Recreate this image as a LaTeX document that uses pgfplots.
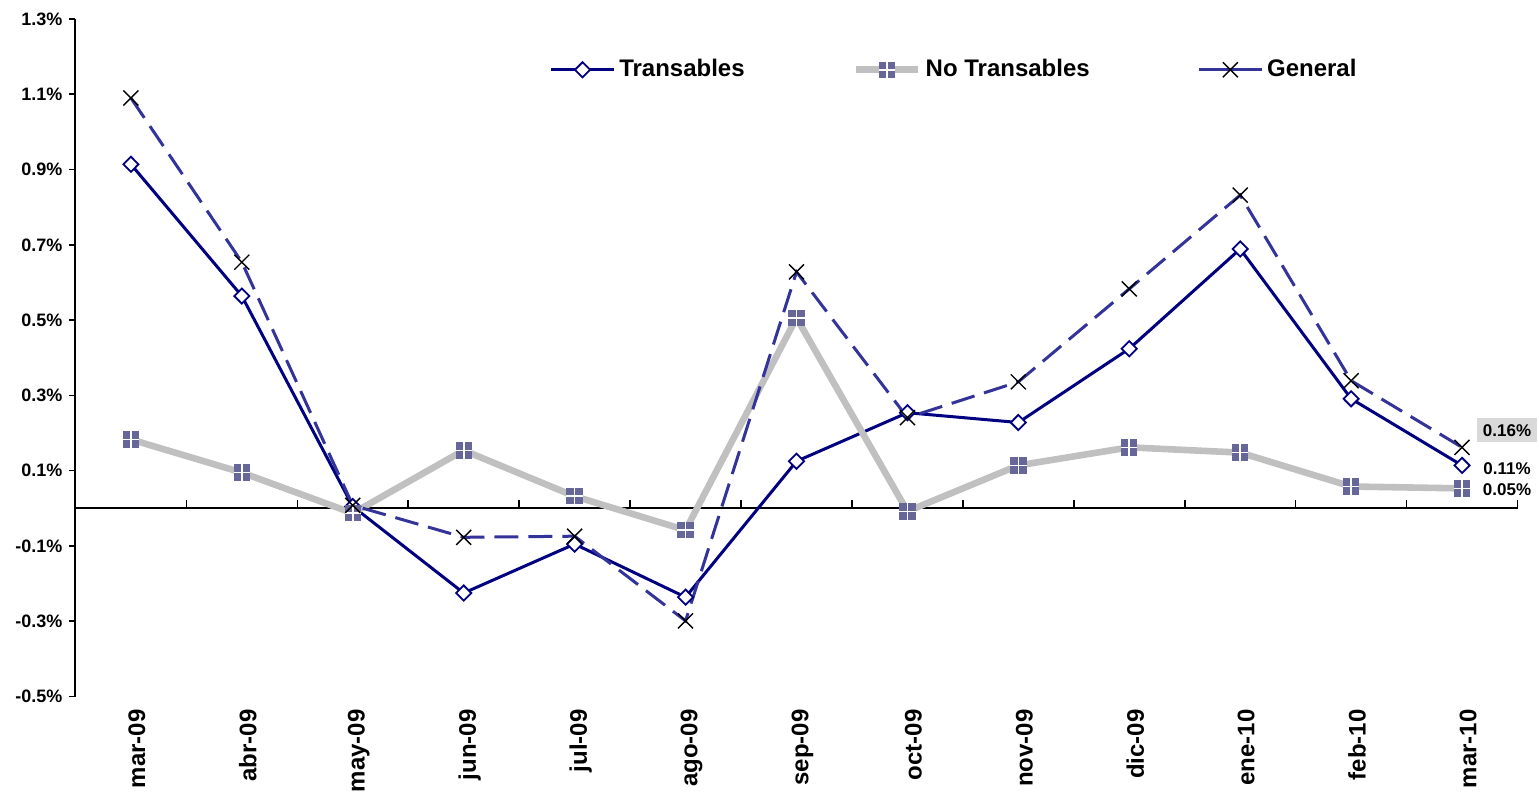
\documentclass[border=0pt]{standalone}
\usepackage{pgfplots}
\pgfplotsset{compat=1.18}
\usepackage{fontspec}
\setmainfont{Liberation Sans}
\definecolor{navy}{RGB}{0,0,128}
\definecolor{dashcol}{RGB}{51,51,153}
\definecolor{lgray}{RGB}{192,192,192}
\definecolor{sqfill}{RGB}{102,102,153}
\definecolor{boxgray}{RGB}{217,217,217}
\pgfdeclareplotmark{sqplus}{%
 \pgfpathrectangle{\pgfqpoint{-\pgfplotmarksize}{-\pgfplotmarksize}}{\pgfqpoint{2\pgfplotmarksize}{2\pgfplotmarksize}}%
 \pgfusepathqfill
 \pgfsetstrokecolor{white}\pgfsetlinewidth{0.8pt}%
 \pgfpathmoveto{\pgfqpoint{-\pgfplotmarksize}{0pt}}\pgfpathlineto{\pgfqpoint{\pgfplotmarksize}{0pt}}%
 \pgfpathmoveto{\pgfqpoint{0pt}{-\pgfplotmarksize}}\pgfpathlineto{\pgfqpoint{0pt}{\pgfplotmarksize}}%
 \pgfusepathqstroke}
\begin{document}
\begin{tikzpicture}
\begin{axis}[
  name=ax,
  scale only axis,
  width=721.5pt, height=339pt,
  xmin=-0.5, xmax=12.5,
  ymin=-0.5, ymax=1.3,
  axis lines=left,
  axis line style={-, line width=1pt},
  x axis line style={draw=none},
  xtick={0,...,12},
  xticklabels={mar-09,abr-09,may-09,jun-09,jul-09,ago-09,sep-09,oct-09,nov-09,dic-09,ene-10,feb-10,mar-10},
  xtick style={draw=none},
  xticklabel style={rotate=90, anchor=east, font=\bfseries\fontsize{12}{12}\selectfont, yshift=-3pt},
  ytick={-0.5,-0.3,...,1.31},
  yticklabel={\pgfmathprintnumber[fixed,fixed zerofill,precision=1]{\tick}\%},
  yticklabel style={font=\bfseries\fontsize{9}{9}\selectfont},
  /pgf/number format/assume math mode=true,
  tick align=outside,
  ytick style={black, line width=0.8pt},
  major tick length=3pt,
  clip=false,
  legend style={draw=none, fill=none, legend columns=3,
    font=\bfseries\fontsize{12}{12}\selectfont,
    /tikz/every even column/.append style={column sep=52pt},
    at={(0.61,0.925)}, anchor=center},
  legend image code/.code={\draw[mark repeat=2,mark phase=2] plot coordinates {(0cm,0cm) (0.55cm,0cm) (1.1cm,0cm)};},
]
\draw[black, line width=1pt] (axis cs:-0.5,0) -- (axis cs:12.5,0);
\pgfplotsinvokeforeach{0.5,1.5,2.5,3.5,4.5,5.5,6.5,7.5,8.5,9.5,10.5,11.5,12.5}{
  \draw[black, line width=0.8pt] (axis cs:#1,0) -- ([yshift=4pt]axis cs:#1,0);
}
\addplot[navy, line width=1.5pt, mark=diamond*, mark size=3.8pt,
  mark options={solid, fill=white, draw=navy, line width=0.9pt, xscale=1.33}]
  coordinates {(0,0.914) (1,0.564) (2,0.005) (3,-0.225) (4,-0.095) (5,-0.236) (6,0.125) (7,0.254) (8,0.228) (9,0.424) (10,0.689) (11,0.291) (12,0.114)};
\addlegendentry{Transables}
\addplot[lgray, line width=3.3pt, mark=sqplus, mark size=4.1pt,
  mark options={solid, fill=sqfill}]
  coordinates {(0,0.183) (1,0.095) (2,-0.013) (3,0.154) (4,0.032) (5,-0.058) (6,0.506) (7,-0.008) (8,0.114) (9,0.162) (10,0.148) (11,0.058) (12,0.053)};
\addlegendentry{No Transables}
\addplot[dashcol, line width=1.5pt, dash pattern=on 12pt off 5pt, mark=x, mark size=5.3pt,
  mark options={solid, black, line width=0.7pt},
  legend image post style={solid}]
  coordinates {(0,1.09) (1,0.654) (2,0.008) (3,-0.077) (4,-0.074) (5,-0.299) (6,0.628) (7,0.241) (8,0.336) (9,0.583) (10,0.832) (11,0.339) (12,0.162)};
\addlegendentry{General}
\node[fill=boxgray, font=\bfseries\fontsize{8.5}{8.5}\selectfont, inner sep=3pt] at ([xshift=22.5pt,yshift=8.5pt]axis cs:12,0.162) {0.16\%};
\node[font=\bfseries\fontsize{8.5}{8.5}\selectfont, inner sep=1pt] at ([xshift=22.5pt,yshift=-1.5pt]axis cs:12,0.114) {0.11\%};
\node[font=\bfseries\fontsize{8.5}{8.5}\selectfont, inner sep=1pt] at ([xshift=22.5pt,yshift=-0.5pt]axis cs:12,0.053) {0.05\%};
\end{axis}
\path ([shift={(-37.75pt,-52pt)}]ax.south west) rectangle ([shift={(10.75pt,9.5pt)}]ax.north east);
\end{tikzpicture}
\end{document}
